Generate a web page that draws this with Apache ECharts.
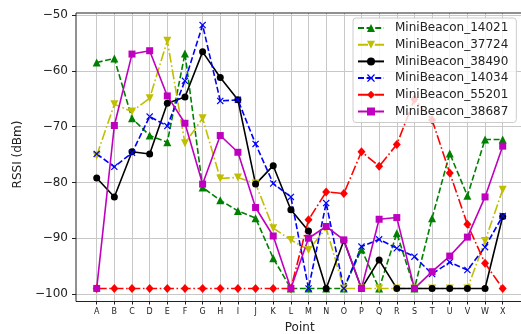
<!DOCTYPE html>
<html><head><meta charset="utf-8">
<script src="https://cdn.jsdelivr.net/npm/echarts@6/dist/echarts.min.js"></script>
<style>html,body{margin:0;padding:0;background:#fff}#c{width:521px;height:334px}</style>
</head><body><div id="c"></div>
<script>
const categories = ['A','B','C','D','E','F','G','H','I','J','K','L','M','N','O','P','Q','R','S','T','U','V','W','X'];
const seriesNames = ['MiniBeacon_14021','MiniBeacon_37724','MiniBeacon_38490','MiniBeacon_14034','MiniBeacon_55201','MiniBeacon_38687'];
const beacon14021 = [-58.5,-57.8,-68.5,-71.6,-72.8,-56.9,-80.9,-83.2,-85.1,-86.4,-93.6,-99,-99,-99,-99,-92,-99,-89.1,-99,-86.4,-74.8,-82.4,-72.3,-72.3];
const beacon37724 = [-75.2,-66.0,-67.3,-64.9,-54.6,-73.0,-68.5,-79.3,-79.1,-80.2,-88.2,-90.3,-92.1,-88.2,-99,-99,-99,-99,-99,-99,-99,-99,-90.5,-81.3];
const beacon38490 = [-79.2,-82.6,-74.5,-74.9,-65.8,-64.7,-56.6,-61.2,-65.2,-80.3,-77.0,-84.9,-88.7,-99,-90.4,-99,-93.9,-99,-99,-99,-99,-99,-99,-86.1];
const beacon14034 = [-74.9,-77.2,-74.7,-68.2,-69.9,-61.8,-51.8,-65.4,-65.2,-73.1,-80.2,-82.6,-99,-83.7,-99,-91.5,-90.2,-91.8,-93.3,-96.4,-94.3,-95.7,-91.6,-86.0];
const beacon55201 = [-99,-99,-99,-99,-99,-99,-99,-99,-99,-99,-99,-99,-86.7,-81.7,-82.0,-74.5,-77.1,-73.2,-65.1,-68.8,-78.3,-87.5,-94.5,-99];
const beacon38687 = [-99,-69.8,-57.0,-56.4,-64.5,-69.4,-80.3,-71.6,-74.6,-84.5,-89.6,-99,-90.0,-87.9,-90.3,-99,-86.6,-86.3,-99,-96.0,-93.2,-89.8,-82.6,-73.5];
const yMin = -100, yMax = -50, yInterval = 10;
const xTitle = 'Point', yTitle = 'RSSI (dBm)';

const FONT = 'DejaVu Sans';
const xMark = 'path://M0,1.2L1.2,0L5,3.8L8.8,0L10,1.2L6.2,5L10,8.8L8.8,10L5,6.2L1.2,10L0,8.8L3.8,5Z';
const dashed = [6, 2.6];
const dashDot = [10, 2.6, 1.6, 2.6];
const lw = 1.6;

function mk(name, data, color, type, symbol, size, rotate) {
  return {
    name, type: 'line', data, xAxisIndex: 1, yAxisIndex: 1,
    symbol, symbolSize: size, symbolRotate: rotate || 0, showAllSymbol: true,
    lineStyle: { color, width: lw, type },
    itemStyle: { color, borderWidth: 0 },
    emphasis: { disabled: true }, animation: false
  };
}

const chart = echarts.init(document.getElementById('c'), null, { renderer: 'canvas' });
chart.setOption({
  animation: false,
  textStyle: { fontFamily: FONT },
  grid: [
    { left: 76, top: 15, width: 447, height: 279, show: false, containLabel: false, outerBoundsMode: 'none' },
    { left: 96.7, top: 13, width: 406, height: 288.5, show: false, containLabel: false, outerBoundsMode: 'none' },
    { left: 76, top: 13, width: 447, height: 288.5, show: true, borderColor: '#222', borderWidth: 1, backgroundColor: 'transparent', z: 5, containLabel: false, outerBoundsMode: 'none' }
  ],
  xAxis: [
    { gridIndex: 0, type: 'value', show: false, min: 0, max: 1 },
    { gridIndex: 1, type: 'category', data: categories, boundaryGap: false,
      axisLine: { show: false },
      axisTick: { show: true, length: 3, alignWithLabel: true, lineStyle: { color: '#222', width: 1 } },
      axisLabel: { fontFamily: FONT, fontSize: 8, color: '#222', margin: 6, interval: 0 },
      splitLine: { show: true, lineStyle: { color: '#c8c8c8', width: 1 } },
      name: xTitle, nameLocation: 'middle', nameGap: 20,
      nameTextStyle: { fontFamily: FONT, fontSize: 12, color: '#222' } },
    { gridIndex: 2, type: 'value', show: false, min: 0, max: 1 }
  ],
  yAxis: [
    { gridIndex: 0, type: 'value', min: yMin, max: yMax, interval: yInterval,
      axisLine: { show: false },
      axisTick: { show: true, length: 4, lineStyle: { color: '#222', width: 1 } },
      axisLabel: { fontFamily: FONT, fontSize: 12, color: '#222', margin: 8,
        formatter: v => String(v).replace('-', '\u2212') },
      splitLine: { show: true, lineStyle: { color: '#c8c8c8', width: 1 } },
      name: yTitle, nameLocation: 'middle', nameGap: 45, nameRotate: 90,
      nameTextStyle: { fontFamily: FONT, fontSize: 12, color: '#222' } },
    { gridIndex: 1, type: 'value', show: false, min: -101.34, max: -49.64 },
    { gridIndex: 2, type: 'value', show: false, min: 0, max: 1 }
  ],
  legend: {
    orient: 'vertical', left: 353, top: 18,
    padding: [3, 8, 4, 4], itemGap: 2.7, itemWidth: 26, itemHeight: 10,
    backgroundColor: 'rgba(255,255,255,0.8)', borderColor: '#cccccc', borderWidth: 1, borderRadius: 3,
    textStyle: { fontFamily: FONT, fontSize: 12, color: '#222', lineHeight: 14, padding: [0, 0, 0, 6] },
    data: seriesNames, z: 10
  },
  series: [
    mk(seriesNames[0], beacon14021, '#008000', dashed, 'triangle', 8),
    mk(seriesNames[1], beacon37724, '#bfbf00', dashDot, 'triangle', 8, 180),
    mk(seriesNames[2], beacon38490, '#000000', 'solid', 'circle', 7),
    mk(seriesNames[3], beacon14034, '#0000ff', dashed, xMark, 7),
    mk(seriesNames[4], beacon55201, '#ff0000', dashDot, 'diamond', [8, 9]),
    mk(seriesNames[5], beacon38687, '#bf00bf', 'solid', 'rect', 7)
  ]
});
</script></body></html>
